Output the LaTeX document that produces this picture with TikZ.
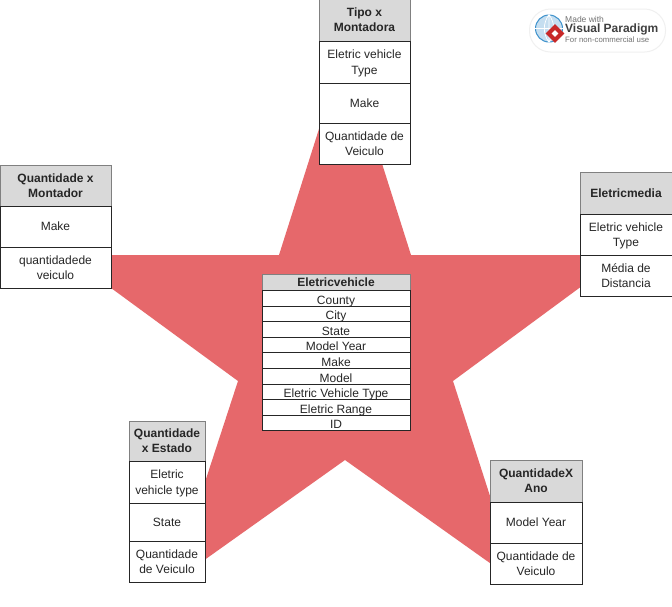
\documentclass[tikz,border=0pt]{standalone}
\usepackage{fontspec}
\setmainfont{Liberation Sans}
\usetikzlibrary{positioning,shapes.geometric}
\definecolor{starRed}{RGB}{230, 104, 107}
\definecolor{headGray}{RGB}{217, 217, 217}
\definecolor{headLine}{RGB}{128, 128, 128}
\definecolor{globeBlue}{RGB}{62, 146, 204}
\definecolor{logoRed}{RGB}{200, 40, 40}
\begin{document}
\begin{tikzpicture}[
    x=1pt, y=-1pt,
    tblhead/.style={draw=headLine, fill=headGray, align=center, inner sep=0pt, outer sep=0pt, line width=.8pt,
        font=\fontsize{12}{15}\selectfont\bfseries, text=black!85},
    tblrow/.style={draw=black!85, fill=white, align=center, inner sep=0pt, outer sep=0pt, line width=.9pt,
        text depth=0pt, font=\fontsize{12}{15.7}\selectfont, text=black!85},
    smallhead/.style={tblhead, minimum width=148pt, minimum height=16pt},
    smallrow/.style={tblrow, minimum width=148pt, minimum height=15.6pt, text height=11.4pt, below=0pt of #1}
]
\useasboundingbox (0,0) rectangle (672,606);
\fill[white] (0,0) rectangle (672,606);
% star behind the tables
\fill[starRed] (345,47) -- (411,255) -- (624,255) -- (453,381) -- (518,583) -- (345,460)
    -- (172,583) -- (238,381) -- (66,255) -- (279,255) -- cycle;

% center table
\node[smallhead, anchor=north west] (evHead) at (262,274.5) {Eletricvehicle};
\node[smallrow=evHead] (evCounty) {County};
\node[smallrow=evCounty] (evCity) {City};
\node[smallrow=evCity] (evState) {State};
\node[smallrow=evState] (evYear) {Model Year};
\node[smallrow=evYear] (evMake) {Make};
\node[smallrow=evMake] (evModel) {Model};
\node[smallrow=evModel] (evType) {Eletric Vehicle Type};
\node[smallrow=evType] (evRange) {Eletric Range};
\node[smallrow=evRange] (evId) {ID};

% top table
\node[tblhead, minimum width=91pt, minimum height=42pt, anchor=north west] (tmHead) at (319,-1) {Tipo x\\Montadora};
\node[tblrow, minimum width=91pt, minimum height=42pt, below=0pt of tmHead] (tmType) {Eletric vehicle\\Type};
\node[tblrow, minimum width=91pt, minimum height=40pt, below=0pt of tmType] (tmMake) {Make};
\node[tblrow, minimum width=91pt, minimum height=41pt, below=0pt of tmMake] (tmQty) {Quantidade de\\Veiculo};

% left table
\node[tblhead, minimum width=111pt, minimum height=41pt, anchor=north west] (qmHead) at (0,165) {Quantidade x\\Montador};
\node[tblrow, minimum width=111pt, minimum height=41pt, below=0pt of qmHead] (qmMake) {Make};
\node[tblrow, minimum width=111pt, minimum height=41pt, below=0pt of qmMake] (qmQty) {quantidadede\\veiculo};

% right table
\node[tblhead, minimum width=92pt, minimum height=42pt, anchor=north west] (emHead) at (580,172) {Eletricmedia};
\node[tblrow, minimum width=92pt, minimum height=41pt, below=0pt of emHead] (emType) {Eletric vehicle\\Type};
\node[tblrow, minimum width=92pt, minimum height=41pt, below=0pt of emType] (emDist) {Média de\\Distancia};

% bottom left table
\node[tblhead, minimum width=76pt, minimum height=40pt, anchor=north west] (qeHead) at (129,421) {Quantidade\\x Estado};
\node[tblrow, minimum width=76pt, minimum height=42pt, below=0pt of qeHead] (qeType) {Eletric\\vehicle type};
\node[tblrow, minimum width=76pt, minimum height=38pt, below=0pt of qeType] (qeState) {State};
\node[tblrow, minimum width=76pt, minimum height=41pt, below=0pt of qeState] (qeQty) {Quantidade\\de Veiculo};

% bottom right table
\node[tblhead, minimum width=92pt, minimum height=42pt, anchor=north west] (qaHead) at (490,460) {QuantidadeX\\Ano};
\node[tblrow, minimum width=92pt, minimum height=41pt, below=0pt of qaHead] (qaYear) {Model Year};
\node[tblrow, minimum width=92pt, minimum height=41pt, below=0pt of qaYear] (qaQty) {Quantidade de\\Veiculo};

% watermark
\node[draw=black!6, line width=1pt, fill=white, rounded corners=21pt, minimum width=136pt, minimum height=43pt, inner sep=0pt, anchor=north west] (vpBadge) at (529,8.5) {};
\node[circle, draw=globeBlue, fill=globeBlue!30, line width=1pt, minimum size=27pt, inner sep=0pt] (vpGlobe) at (549,28.5) {};
\draw[white, line width=.7pt] (vpGlobe.north) to[bend left=35] (vpGlobe.south) (vpGlobe.north) to[bend right=35] (vpGlobe.south)
    (vpGlobe.north) -- (vpGlobe.south) (vpGlobe.west) -- (vpGlobe.east);
\node[diamond, fill=logoRed, minimum size=19pt, inner sep=0pt] (vpMark) at (555,33.5) {};
\node[diamond, fill=white, minimum size=7pt, inner sep=0pt] (vpHole) at (vpMark) {};
\node[anchor=west, inner sep=0pt, text=black!55, font=\fontsize{8.5}{9}\selectfont] (vpMade) at (565,19) {Made with};
\node[anchor=west, inner sep=0pt, text=black!75, font=\fontsize{12}{13}\selectfont\bfseries] (vpName) at (565,29) {Visual Paradigm};
\node[anchor=west, inner sep=0pt, text=black!55, font=\fontsize{7.8}{9}\selectfont] (vpUse) at (565,40) {For non-commercial use};
\end{tikzpicture}
\end{document}
